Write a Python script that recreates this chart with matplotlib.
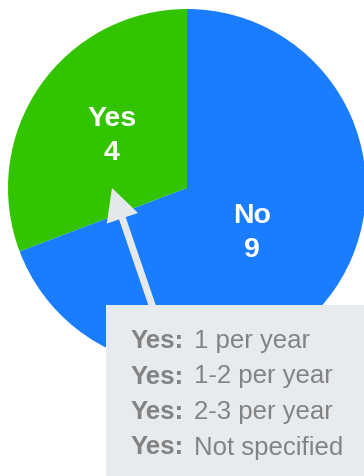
import numpy as np
import matplotlib
matplotlib.use("Agg")
import matplotlib.pyplot as plt
from matplotlib.patches import Rectangle, FancyArrow

# Survey answers
categories = ["Yes", "No"]
counts = [4, 9]
colors = ["#33c400", "#1a7dff"]

# Breakdown of the "Yes" answers
detail_prefix = ["Yes:", "Yes:", "Yes:", "Yes:"]
detail_text = ["1 per year", "1-2 per year", "2-3 per year", "Not specified"]

W, H = 364, 476
FONT = "Liberation Sans"


def py(y):
    """Top-down pixel row -> data y (axes run bottom-up)."""
    return H - y


fig = plt.figure(figsize=(W / 100, H / 100), dpi=100)
ax = fig.add_axes([0, 0, 1, 1])

cx, cy, r = 187, py(188), 179
wedges, _ = ax.pie(counts, colors=colors, startangle=90, counterclock=True,
                   center=(cx, cy), radius=r, frame=True,
                   wedgeprops=dict(linewidth=0))
ax.set_xlim(0, W)
ax.set_ylim(0, H)
ax.set_aspect("equal")
ax.axis("off")

# Centre labels inside each wedge
label_dist = [0.51, 0.44]
for w, name, val, d in zip(wedges, categories, counts, label_dist):
    mid = np.deg2rad((w.theta1 + w.theta2) / 2)
    ax.text(cx + d * r * np.cos(mid), cy + d * r * np.sin(mid), f"{name}\n{val}",
            ha="center", va="center", color="white", fontsize=20.5,
            fontweight="bold", family=FONT, linespacing=1.38, zorder=5)

# Arrow from the note box up into the "Yes" wedge
tip = np.array([112, py(188)])
direction = np.array([0.3236, -0.9466])
tail = tip + 150 * direction
ax.add_patch(FancyArrow(tail[0], tail[1], *(tip - tail), width=7,
                        head_width=33, head_length=32,
                        length_includes_head=True, color="#e6e9ec",
                        linewidth=0, zorder=6))

# Note box
ax.add_patch(Rectangle((106, 0), W - 106, py(305), facecolor="#e8ebee",
                       edgecolor="none", zorder=7))

fig.canvas.draw()
renderer = fig.canvas.get_renderer()
x0 = 131
for i, (pre, txt) in enumerate(zip(detail_prefix, detail_text)):
    yb = py(348 + i * 35.5)
    t = ax.text(x0, yb, pre, ha="left", va="baseline", color="#838383",
                fontsize=18.5, fontweight="bold", family=FONT, zorder=8)
    bb = t.get_window_extent(renderer)
    ax.text(bb.x1 + 10, yb, txt, ha="left", va="baseline", color="#838383",
            fontsize=18.5, family=FONT, zorder=8)

fig.savefig("out.png", dpi=100)
